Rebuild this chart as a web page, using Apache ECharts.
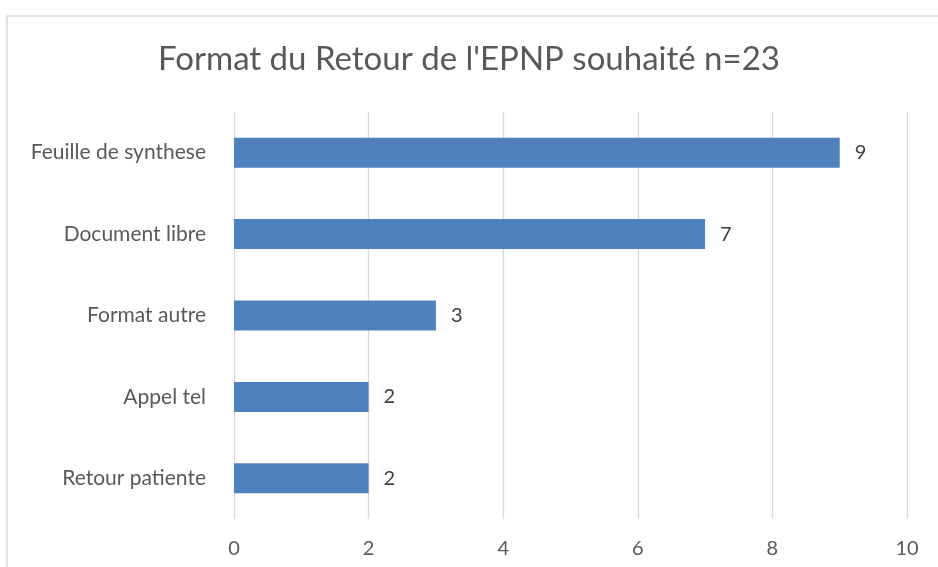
<!DOCTYPE html>
<html>
<head>
<meta charset="utf-8">
<script src="https://cdn.jsdelivr.net/npm/echarts@6/dist/echarts.min.js"></script>
<style>
  html, body { margin: 0; padding: 0; background: #fff; }
  #chart { width: 938px; height: 567px; }
</style>
</head>
<body>
<div id="chart"></div>
<script>
// données
const categories = ['Feuille de synthese', 'Document libre', 'Format autre', 'Appel tel', 'Retour patiente'];
const values = [9, 7, 3, 2, 2];
const titleText = "Format du Retour de l'EPNP souhaité n=23";

const chart = echarts.init(document.getElementById('chart'));
chart.setOption({
  animation: false,
  textStyle: { fontFamily: 'Lato, "Open Sans", sans-serif' },
  // cadre du graphique
  graphic: [{
    type: 'rect',
    shape: { x: 7, y: 16, width: 960, height: 600 },
    style: { fill: 'none', stroke: '#d9d9d9', lineWidth: 1.5 },
    silent: true
  }],
  title: {
    text: titleText,
    left: 'center',
    top: 38,
    textStyle: { color: '#595959', fontSize: 33, fontWeight: 'normal' }
  },
  grid: { left: 234, right: 31, top: 112, bottom: 48 },
  xAxis: {
    type: 'value',
    min: 0,
    max: 10,
    interval: 2,
    axisLine: { show: false },
    axisTick: { show: false },
    axisLabel: { color: '#595959', fontSize: 20, margin: 20 },
    splitLine: { lineStyle: { color: '#d9d9d9', width: 1.3 } }
  },
  yAxis: {
    type: 'category',
    inverse: true,
    data: categories,
    axisLine: { show: false },
    axisTick: { show: false },
    axisLabel: { color: '#595959', fontSize: 21, margin: 28 }
  },
  series: [{
    type: 'bar',
    data: values,
    barWidth: 30,
    itemStyle: { color: '#4f81bd' },
    label: {
      show: true,
      position: 'right',
      distance: 15,
      color: '#404040',
      fontSize: 20
    }
  }]
});
</script>
</body>
</html>
